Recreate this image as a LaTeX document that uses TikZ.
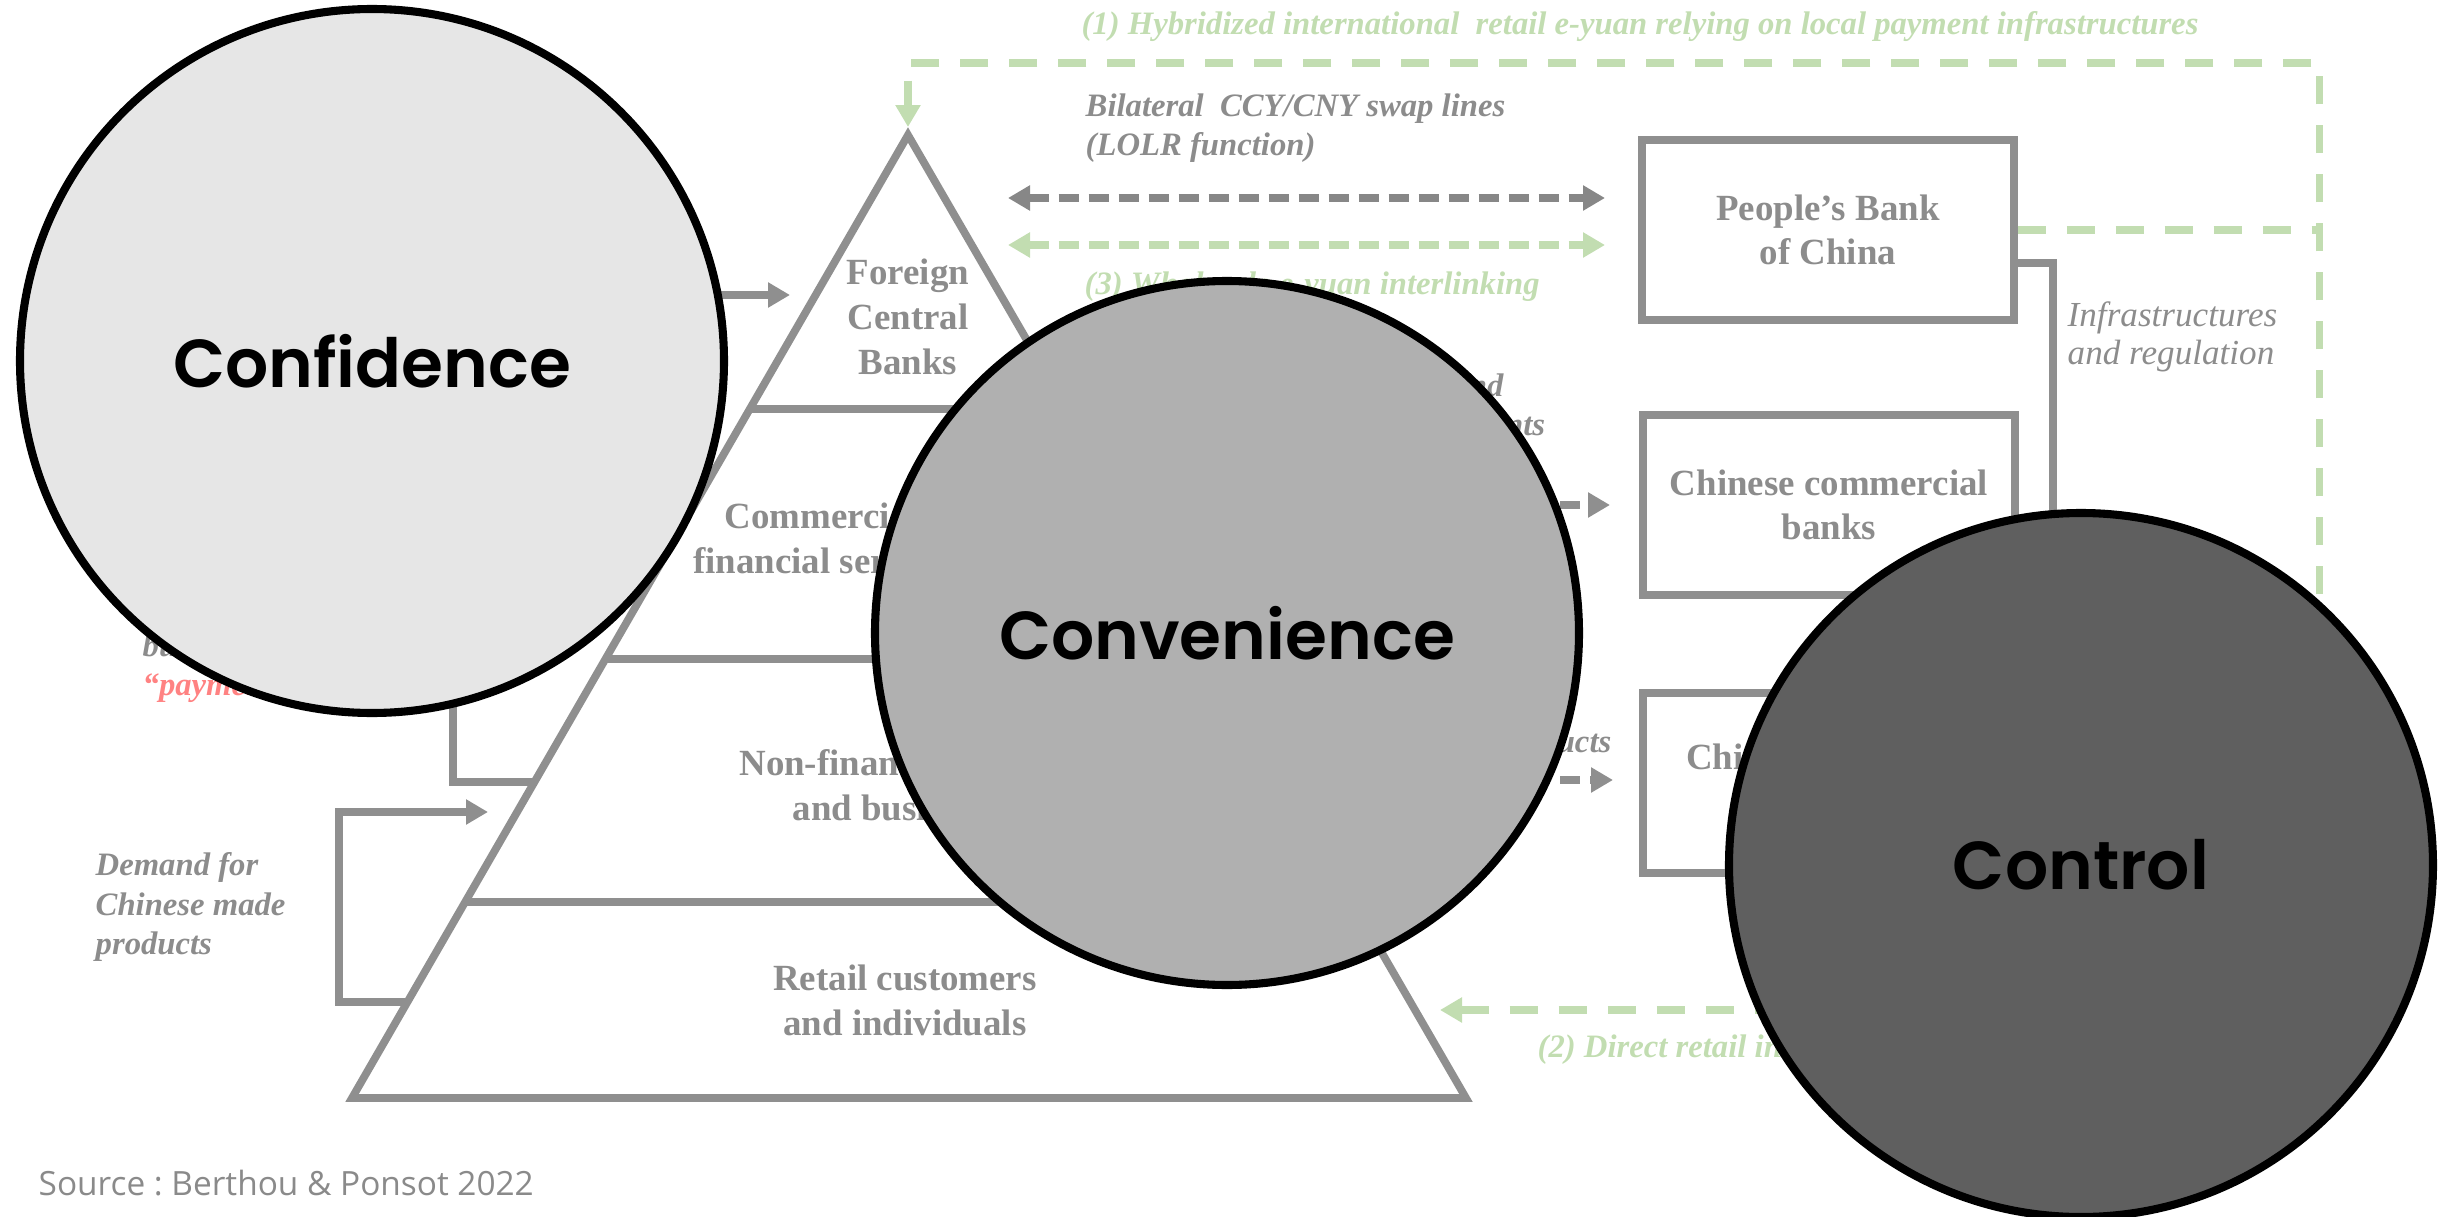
\documentclass[tikz,border=0pt]{standalone}
\usepackage{fontspec}
\setmainfont{Liberation Serif}
\newfontfamily\circfont{Poppins}[BoldFont={Poppins SemiBold}]
\newfontfamily\srcfont{Open Sans}
\usetikzlibrary{arrows.meta,calc}
\definecolor{lgray}{HTML}{8F8F8F}
\definecolor{agray}{HTML}{878787}
\definecolor{tgray}{HTML}{8C8C8C}
\definecolor{sgray}{HTML}{8A8A8A}
\definecolor{lgreen}{HTML}{C2DDB1}
\definecolor{lred}{HTML}{FF8282}
\definecolor{confid}{HTML}{E6E6E6}
\definecolor{conven}{HTML}{B0B0B0}
\definecolor{contr}{HTML}{5F5F5F}
\tikzset{
	pyr/.style={draw=lgray,line width=2.2pt},
	tier/.style={text=tgray,align=center,inner sep=0pt,font=\bfseries\fontsize{10.5}{12.8}\selectfont},
	bank/.style={draw=lgray,line width=2pt,minimum width=37.2mm,minimum height=18mm,inner sep=0pt,
		text=tgray,align=center,font=\bfseries\fontsize{10.5}{12.5}\selectfont},
	lbl/.style={text=tgray,align=left,inner sep=0pt,font=\bfseries\itshape\fontsize{9.3}{11.2}\selectfont},
	glbl/.style={lbl,text=lgreen},
	arr/.style={-{Triangle[length=2.2mm,width=2.4mm]}},
	arr2/.style={{Triangle[length=2.2mm,width=2.4mm]}-{Triangle[length=2.2mm,width=2.4mm]}},
	gdash/.style={draw=lgreen,line width=2pt,dash pattern=on 2.8mm off 2.1mm},
	sdash/.style={line width=2.2pt,dash pattern=on 2mm off 1mm},
	disc/.style={circle,draw=black,line width=2.3pt,minimum size=70.4mm,inner sep=0pt,
		font=\circfont\bfseries\fontsize{19.3}{23}\selectfont}
}
\begin{document}
\begin{tikzpicture}[x=0.1mm,y=-0.1mm]
	\useasboundingbox (0,0) rectangle (2450,1217);
	%coordinates
	\coordinate (apex) at (908,135);
	\coordinate (baseL) at (352,1098);
	\coordinate (baseR) at (1466,1098);
	\foreach \t/\n in {0.2845/1,0.5441/2,0.7965/3}{
		\coordinate (L\n) at ($(apex)!\t!(baseL)$);
		\coordinate (R\n) at ($(apex)!\t!(baseR)$);
	}
	\coordinate (pyU) at ($(apex)!0.6719!(baseL)$);
	\coordinate (pyD) at ($(apex)!0.9003!(baseL)$);
	%Pyramid
	\draw[pyr] (apex) -- (baseL) -- (baseR) -- cycle;
	\foreach \n in {1,2,3} \draw[pyr] (L\n) -- (R\n);
	\node[tier] (FCB) at (908,317) {Foreign\\Central\\Banks};
	\node[tier] (CFS) at (908,542) {Commercial banks and\\financial services providers};
	\node[tier] (NFE) at (908,785) {Non-financial entities\\and businesses};
	\node[tier] (RCI) at (905,1000) {Retail customers\\and individuals};
	%Chinese side
	\node[bank] (PB) at (1828,230) {People’s Bank\\of China};
	\node[bank] (CB) at (1829,505) {Chinese commercial\\banks};
	\node[bank] (CF) at (1829,783) {Chinese exporting\\companies};
	%Labels
	\node[glbl,align=center] (L1lab) at (1640,27) {(1) Hybridized international\ \ retail e-yuan relying on local payment infrastructures};
	\node[lbl,anchor=west] (swp) at (1085,128) {Bilateral\ \ CCY/CNY swap lines\\(LOLR function)};
	\node[glbl,anchor=west] (L3lab) at (1084,287) {(3) Wholesale e-yuan interlinking};
	\node[lbl,anchor=west] (stl) at (1302,408) {Settlement and\\payment accounts};
	\node[lbl,anchor=east] (prd) at (1612,745) {Payments for Chinese products};
	\node[glbl,anchor=west] (L2lab) at (1537,1050) {(2) Direct retail international e-yuan};
	\node[lbl,anchor=west,font=\itshape\fontsize{10}{11}\selectfont] (inf) at (2067,337) {Infrastructures\\and regulation};
	\node[lbl,anchor=west] (dmd) at (95,907) {Demand for\\Chinese made\\products};
	\node[lbl,anchor=west] (pay) at (142,668) {business use as\\\textcolor{lred}{“payment currency”}};
	\node[anchor=west,inner sep=0pt,text=sgray,font=\srcfont\frenchspacing\fontsize{9.5}{11}\selectfont] (src) at (38,1183) {Source : Berthou \& Ponsot 2022};
	%Flows
	\coordinate (rsv) at (620,295);
	\coordinate (rsvT) at (790,295);
	\draw[pyr,arr] (rsv) -- (rsvT);
	\coordinate (brU) at (453,782);
	\coordinate (brT) at (453,620);
	\draw[pyr] (pyU) -- (brU) -- (brT);
	\coordinate (brD) at (339,1002);
	\coordinate (brDT) at (339,812);
	\coordinate (dmT) at (488,812);
	\draw[pyr,arr] (pyD) -- (brD) -- (brDT) -- (dmT);
	\coordinate (ir1) at (2053,263);
	\coordinate (ir2) at (2053,783);
	\draw[pyr,arr] (PB.east |- ir1) -- (ir1) -- (ir2) -- (CF.east);
	\coordinate (swL) at (1008,198);
	\coordinate (swR) at (1605,198);
	\draw[sdash,agray,arr2] (swL) -- (swR);
	\coordinate (gwL) at (1008,245);
	\coordinate (gwR) at (1605,245);
	\draw[sdash,lgreen,arr2] (gwL) -- (gwR);
	\coordinate (cbA) at (1500,505);
	\coordinate (cbT) at (1610,505);
	\draw[sdash,lgray,arr] (cbA) -- (cbT);
	\coordinate (cfA) at (1500,780);
	\coordinate (cfT) at (1613,780);
	\draw[sdash,lgray,arr] (cfA) -- (cfT);
	%e-yuan channels
	\coordinate (gB) at (1440,1010);
	\coordinate (gBR) at (2319,1010);
	\coordinate (gTR) at (2319,63);
	\coordinate (gTL) at (908,63);
	\coordinate (gA) at (908,127);
	\draw[gdash,arr2] (gB) -- (gBR) -- (gTR) -- (gTL) -- (gA);
	\coordinate (gM) at (2319,230);
	\draw[gdash] (PB.east |- gM) -- (gM);
	%Circles
	\node[disc,fill=confid] (conf) at (372,361) {Confidence};
	\node[disc,fill=conven] (conv) at (1227,633) {Convenience};
	\node[disc,fill=contr] (ctrl) at (2081,865) {Control};
\end{tikzpicture}
\end{document}
